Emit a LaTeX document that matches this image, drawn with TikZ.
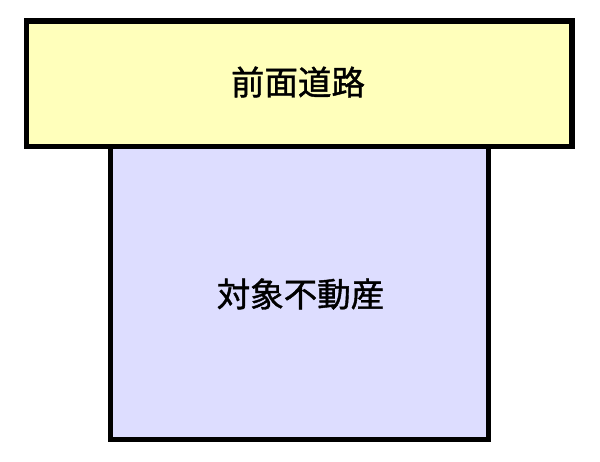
\documentclass[tikz,border=0pt]{standalone}
\usepackage{fontspec}
\newfontfamily\cjk[FakeBold=1.2]{Noto Sans CJK JP}
\definecolor{roadfill}{RGB}{255,255,187}
\definecolor{propfill}{RGB}{221,221,255}
\begin{document}
\begin{tikzpicture}[x=1pt,y=-1pt,
  area/.style={draw=black,line width=5.5pt},
  lbl/.style={font=\cjk\fontsize{33.5}{38}\selectfont,text=black,inner sep=0pt}]
\useasboundingbox (0,0) rectangle (600,461);
\draw[area,fill=propfill] (110.5,146.5) rectangle (488.5,439.5);
\draw[area,fill=roadfill] (26.5,21) rectangle (572,146.5);
\node[lbl] (road) at (298,82) {前面道路};
\node[lbl] (prop) at (300.5,294) {対象不動産};
\end{tikzpicture}
\end{document}
